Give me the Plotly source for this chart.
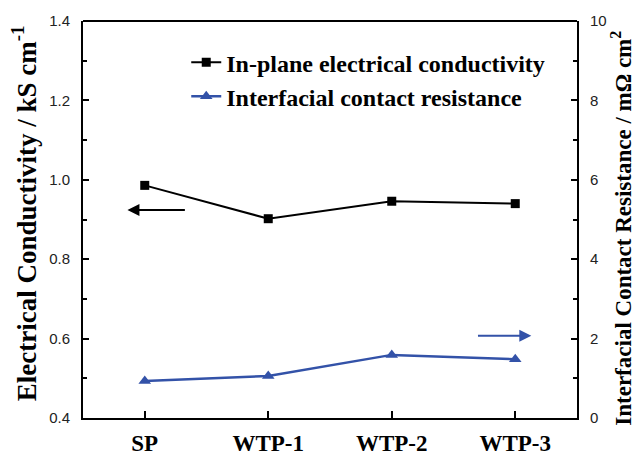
import plotly.graph_objects as go

categories = ["SP", "WTP-1", "WTP-2", "WTP-3"]
conductivity = [0.986, 0.902, 0.946, 0.940]      # kS cm-1 (left axis)
resistance = [0.93, 1.06, 1.59, 1.48]            # mOhm cm2 (right axis)
left_ticks = [0.4, 0.6, 0.8, 1.0, 1.2, 1.4]
right_ticks = [0, 2, 4, 6, 8, 10]

BLUE = "#3352a8"
SERIF = "Liberation Serif, Times New Roman, serif"
SANS = "Liberation Sans, Arial, sans-serif"

fig = go.Figure()
fig.add_trace(go.Scatter(
    x=categories, y=conductivity, mode="lines+markers",
    name="<b>In-plane electrical conductivity</b>",
    line=dict(color="black", width=2),
    marker=dict(symbol="square", size=9, color="black"),
    yaxis="y"))
fig.add_trace(go.Scatter(
    x=categories, y=resistance, mode="lines+markers",
    name="<b>Interfacial contact resistance</b>",
    line=dict(color=BLUE, width=2.5),
    marker=dict(symbol="triangle-up", size=11, color=BLUE),
    yaxis="y2"))

# direction arrows
fig.add_annotation(x=-0.14, y=0.924, ax=0.337, ay=0.924, xref="x", yref="y",
                   axref="x", ayref="y", showarrow=True, arrowhead=2,
                   arrowsize=1.2, arrowwidth=2, arrowcolor="black", text="")
fig.add_annotation(x=3.13, y=2.07, ax=2.686, ay=2.07, xref="x", yref="y2",
                   axref="x", ayref="y2", showarrow=True, arrowhead=2,
                   arrowsize=1.2, arrowwidth=2, arrowcolor=BLUE, text="")

# axis titles
fig.add_annotation(x=-0.12, y=0.515, xref="paper", yref="paper",
                   text="<b>Electrical Conductivity / kS cm<sup>-1</sup></b>",
                   textangle=-90, showarrow=False, xanchor="center", yanchor="middle",
                   font=dict(family=SERIF, size=27, color="black", weight="bold"))
fig.add_annotation(x=1.09, y=0.478, xref="paper", yref="paper",
                   text="<b>Interfacial Contact Resistance / mΩ cm<sup>2</sup></b>",
                   textangle=-90, showarrow=False, xanchor="center", yanchor="middle",
                   font=dict(family=SERIF, size=23, color="black", weight="bold"))

fig.update_layout(
    width=636, height=457,
    margin=dict(l=83, r=59, t=21, b=39, autoexpand=False),
    paper_bgcolor="white", plot_bgcolor="white",
    showlegend=True,
    legend=dict(x=0.209, y=0.952, xanchor="left", yanchor="top",
                bgcolor="rgba(0,0,0,0)",
                font=dict(family=SERIF, size=24, color="black", weight="bold"),
                tracegroupgap=0),
    xaxis=dict(
        range=[-0.5, 3.5], type="category", automargin=False,
        showline=True, linecolor="black", linewidth=2, mirror=False,
        ticks="inside", ticklen=7, tickwidth=1.5, tickcolor="black",
        tickfont=dict(family=SERIF, size=23, color="black", weight="bold"),
        ticklabelstandoff=3,
        showgrid=False, zeroline=False),
    yaxis=dict(
        range=[0.4, 1.4], tickvals=left_ticks, automargin=False,
        tickformat=".1f",
        showline=True, linecolor="black", linewidth=2,
        ticks="inside", ticklen=6, tickwidth=1.5, tickcolor="black",
        minor=dict(ticks="inside", ticklen=4, tickwidth=1.5, dtick=0.1,
                   tick0=0.4, tickcolor="black"),
        tickfont=dict(family=SANS, size=15, color="#222"),
        ticklabelstandoff=8,
        showgrid=False, zeroline=False),
    yaxis2=dict(
        range=[0, 10], tickvals=right_ticks, automargin=False,
        overlaying="y", side="right",
        showline=True, linecolor="black", linewidth=2,
        ticks="inside", ticklen=6, tickwidth=1.5, tickcolor="black",
        minor=dict(ticks="inside", ticklen=4, tickwidth=1.5, dtick=1,
                   tick0=0, tickcolor="black"),
        tickfont=dict(family=SANS, size=15, color="#222"),
        ticklabelstandoff=8,
        showgrid=False, zeroline=False),
)
# top border line of the frame
fig.add_shape(type="line", xref="paper", yref="paper", x0=0, x1=1, y0=1, y1=1,
              line=dict(color="black", width=2))

fig.write_html("out.html",
               config={"displayModeBar": False},
               post_script="document.body.style.margin='0';"
                           "document.body.style.overflow='hidden';")
